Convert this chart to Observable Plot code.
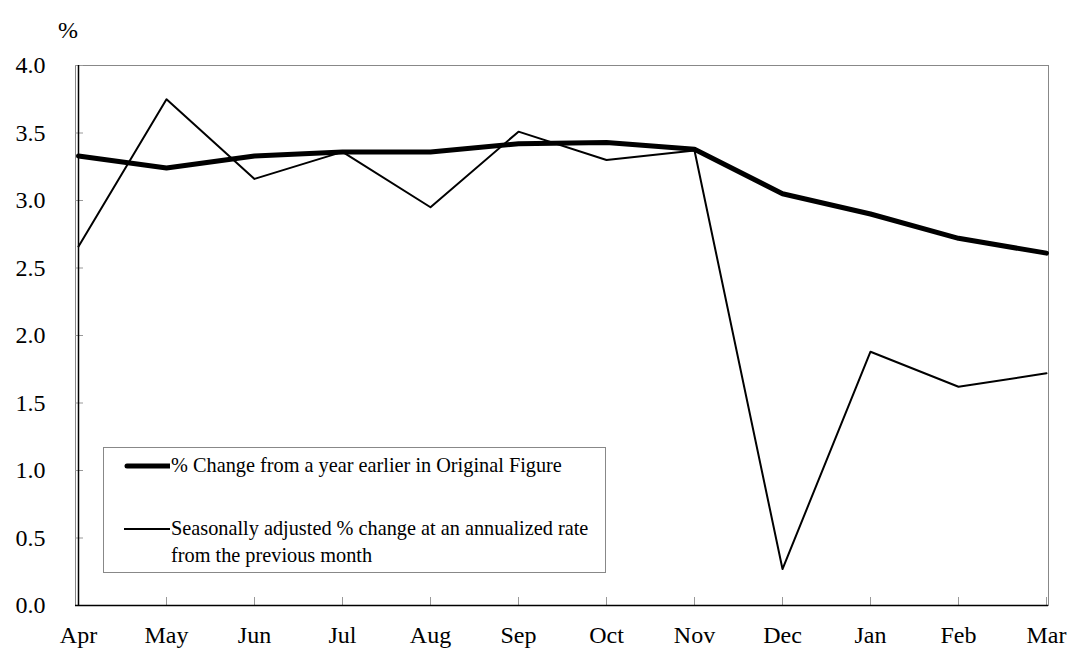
<!DOCTYPE html>
<html>
<head>
<meta charset="utf-8">
<script src="https://cdn.jsdelivr.net/npm/d3@7"></script>
<script src="https://cdn.jsdelivr.net/npm/@observablehq/plot@0.6"></script>
<style>
  html, body { margin: 0; padding: 0; background: #fff; }
  #wrap { position: relative; width: 1072px; height: 651px; font-family: "Liberation Serif", "Times New Roman", serif; }
  #pct { position: absolute; left: 58px; top: 17px; font-size: 24px; }
  #legend { position: absolute; left: 103px; top: 447px; width: 503px; height: 126px; border: 1px solid #888; box-sizing: border-box; background: #fff; font-size: 20.3px; line-height: 27px; }
  .row { position: absolute; left: 0; display: flex; align-items: flex-start; white-space: nowrap; }
  .sw { width: 46px; margin-left: 20px; margin-right: 1px; }
</style>
</head>
<body>
<div id="wrap">
  <div id="chart"></div>
  <div id="pct">%</div>
  <div id="legend">
    <div class="row" style="top:4px"><svg class="sw" height="27"><line x1="3" x2="46" y1="14" y2="14" stroke="#000" stroke-width="5" stroke-linecap="round"/></svg><span>% Change from a year earlier in Original Figure</span></div>
    <div class="row" style="top:67px"><svg class="sw" height="27"><line x1="0" x2="46" y1="14" y2="14" stroke="#000" stroke-width="2"/></svg><span>Seasonally adjusted % change at an annualized rate<br>from the previous month</span></div>
  </div>
</div>
<script>
const months = ["Apr","May","Jun","Jul","Aug","Sep","Oct","Nov","Dec","Jan","Feb","Mar"];
const yoy = [3.33, 3.24, 3.33, 3.36, 3.36, 3.42, 3.43, 3.38, 3.05, 2.90, 2.72, 2.61];
const saar = [2.66, 3.75, 3.16, 3.36, 2.95, 3.51, 3.30, 3.37, 0.27, 1.88, 1.62, 1.72];
const yTicks = [0, 0.5, 1, 1.5, 2, 2.5, 3, 3.5, 4];

const dYoy = months.map((m, i) => ({month: m, value: yoy[i]}));
const dSaar = months.map((m, i) => ({month: m, value: saar[i]}));

const chart = Plot.plot({
  width: 1072,
  height: 651,
  marginLeft: 75,
  marginRight: 24,
  marginTop: 65,
  marginBottom: 46,
  style: {fontFamily: "'Liberation Serif', 'Times New Roman', serif", fontSize: "24px", color: "#000", background: "#fff"},
  x: {type: "point", domain: months, padding: 0},
  y: {domain: [0, 4], ticks: yTicks},
  marks: [
    Plot.frame({stroke: "#888"}),
    // inward tick marks
    Plot.axisY({ticks: yTicks, tickSize: 8, dx: 8, tickFormat: () => "", stroke: "#999", label: null}),
    Plot.axisX({tickSize: 8, dy: -8, tickFormat: () => "", stroke: "#999", label: null}),
    // labels
    Plot.axisY({ticks: yTicks, tickSize: 0, tickPadding: 30, tickFormat: d3.format(".1f"), label: null, fontSize: 24}),
    Plot.axisX({tickSize: 0, tickPadding: 20, label: null, fontSize: 24}),
    Plot.ruleY([0], {stroke: "#000", strokeWidth: 1.5}),
    Plot.ruleX([months[0]], {stroke: "#000", strokeWidth: 1.5}),
    Plot.line(dSaar, {x: "month", y: "value", stroke: "#000", strokeWidth: 2}),
    Plot.line(dYoy, {x: "month", y: "value", stroke: "#000", strokeWidth: 5})
  ]
});
document.getElementById("chart").appendChild(chart);
</script>
</body>
</html>
